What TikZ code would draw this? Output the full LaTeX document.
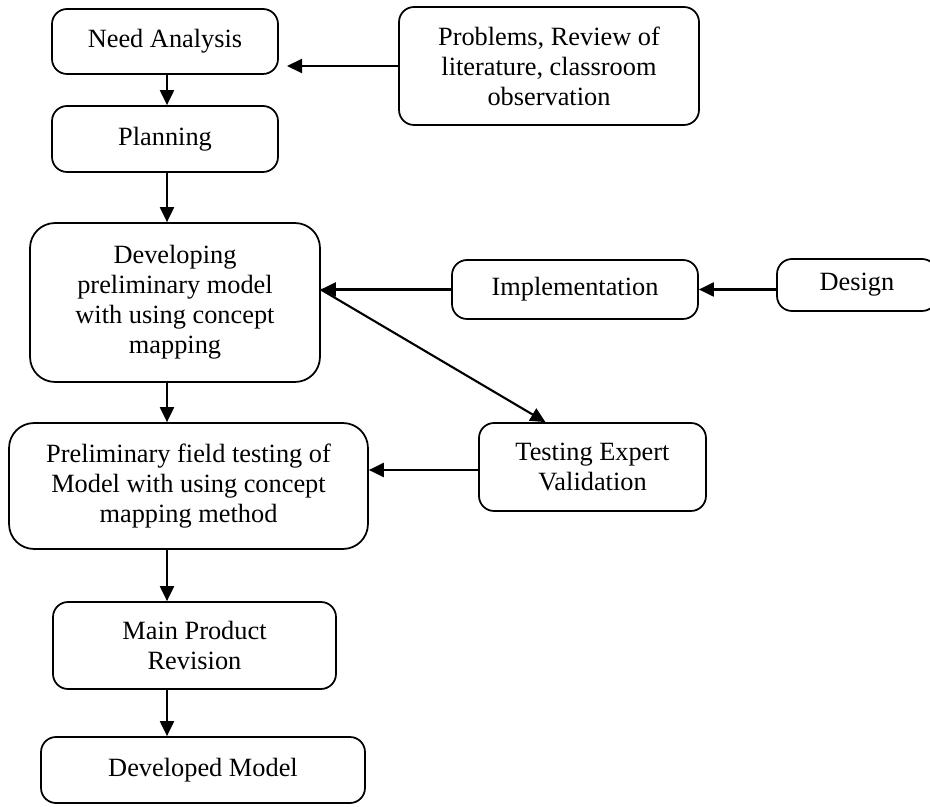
\documentclass[tikz,border=0pt]{standalone}
\usepackage{fontspec}
\setmainfont{Liberation Serif}
\usetikzlibrary{arrows.meta,calc,positioning}

\begin{document}
\begin{tikzpicture}[
		x=0.02cm, y=-0.02cm,
		box/.style={draw, line width=1pt, rounded corners=0.3cm, align=center, inner sep=0pt,
			font=\fontsize{15}{17}\selectfont},
		bigbox/.style={box, rounded corners=0.5cm},
		flow/.style={line width=1.2pt, -{Triangle[length=0.3cm,width=0.28cm]}}
	]
	\useasboundingbox (0,0) rectangle (930,807);

	\node[box, minimum width=4.52cm, minimum height=1.30cm] (need) at (165,41.5) {Need Analysis};
	\node[box, minimum width=4.52cm, minimum height=1.32cm] (plan) at (165,139) {Planning};
	\node[box, minimum width=6.00cm, minimum height=2.36cm] (probs) at (549,66) {Problems, Review of\\literature, classroom\\observation};

	\node[bigbox, minimum width=5.80cm, minimum height=3.18cm] (devel) at (175,302.5) {Developing\\preliminary model\\with using concept\\mapping};
	\node[box, minimum width=4.92cm, minimum height=1.18cm] (impl) at (575,289.5) {Implementation};
	\node[box, minimum width=3.20cm, minimum height=1.04cm] (design) at (857,285) {Design};

	\node[bigbox, minimum width=7.18cm, minimum height=2.52cm] (prelim) at (188.5,486) {Preliminary field testing of\\Model with using concept\\mapping method};
	\node[box, minimum width=4.54cm, minimum height=1.76cm] (testing) at (592.5,467) {Testing Expert\\Validation};

	\node[box, minimum width=5.66cm, minimum height=1.74cm] (main) at (194.5,645.5) {Main Product\\Revision};
	\node[box, minimum width=6.48cm, minimum height=1.32cm] (devmodel) at (203,770) {Developed Model};

	% free ends
	\coordinate (spine) at (167,0);
	\coordinate (needtip) at (287,66);

	\draw[flow] (probs.west) -- (needtip);
	\draw[flow] (need.south -| spine) -- (plan.north -| spine);
	\draw[flow] (plan.south -| spine) -- (devel.north -| spine);
	\draw[flow] (devel.south -| spine) -- (prelim.north -| spine);
	\draw[flow] (prelim.south -| spine) -- (main.north -| spine);
	\draw[flow] (main.south -| spine) -- (devmodel.north -| spine);

	\draw[flow] (design.west |- impl.east) -- (impl.east);
	\draw[flow] (impl.west) -- (impl.west -| devel.east);
	\draw[flow] (impl.west -| devel.east) -- ($(testing.north)+(-47,0)$);
	\draw[flow] ($(testing.west)+(0,3)$) -- ($(testing.west -| prelim.east)+(0,3)$);
\end{tikzpicture}
\end{document}
